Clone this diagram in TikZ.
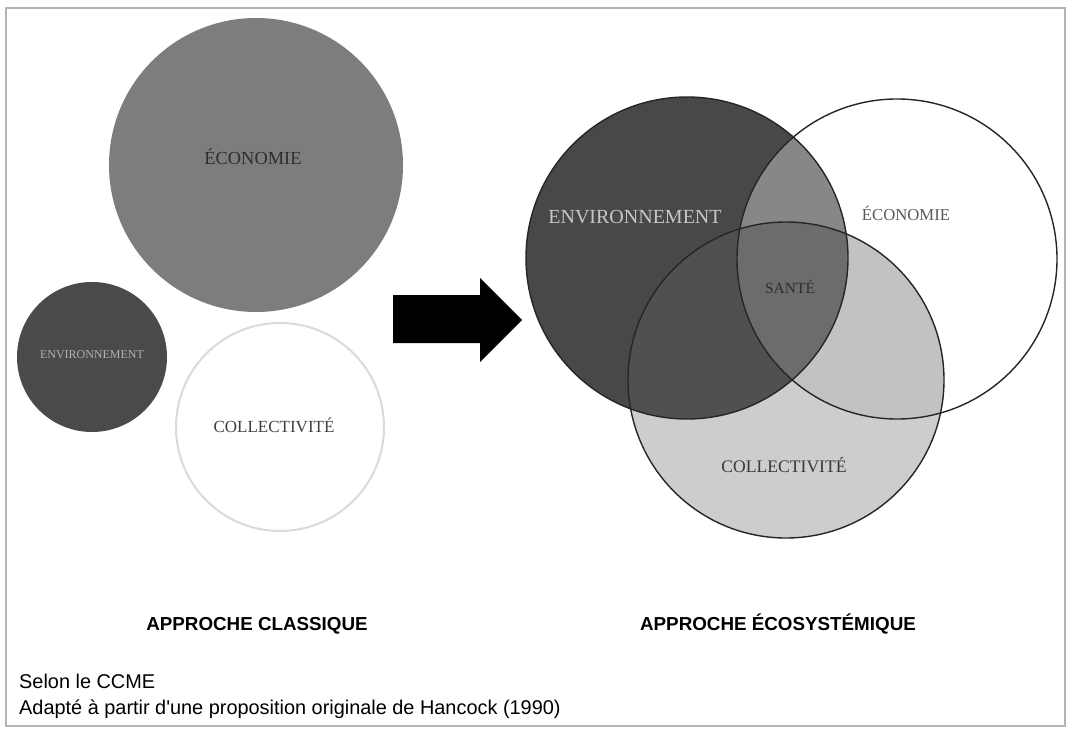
\documentclass[tikz,border=0pt]{standalone}
\usepackage{fontspec}
\setmainfont{Liberation Serif}
\setsansfont{Liberation Sans}
\definecolor{framegray}{HTML}{B4B4B4}
\definecolor{ecoLfill}{HTML}{7D7D7D}
\definecolor{envLfill}{HTML}{4A4A4A}
\definecolor{colLline}{HTML}{DADADA}
\definecolor{envfill}{HTML}{484848}
\definecolor{collfill}{HTML}{CDCDCD}
\definecolor{enveco}{HTML}{878787}
\definecolor{envcol}{HTML}{505050}
\definecolor{coleco}{HTML}{C2C2C2}
\definecolor{santefill}{HTML}{6C6C6C}
\newcommand{\fsz}[1]{\fontsize{#1pt}{#1pt}\selectfont}
% straight typewriter-style apostrophe, bypassing the TeX ligature mapping
\newcommand{\straightquote}{\XeTeXglyph\XeTeXcharglyph"27\relax}
\begin{document}
\begin{tikzpicture}[x=1pt,y=-1pt,
  lbl/.style={inner sep=0pt, font=\rmfamily},
  heading/.style={inner sep=0pt, anchor=base, font=\sffamily\bfseries\fsz{18.8}},
  note/.style={inner sep=0pt, anchor=base west, font=\sffamily\fsz{19.9}},
  venn/.style={line width=1.4pt, draw=black!85}]
\useasboundingbox (0,0) rectangle (1072,733);
\fill[white] (0,0) rectangle (1072,733);
% outer frame
\draw[framegray, line width=1.2pt] (6,8) rectangle (1065,726);

% ---- classical approach: three separate circles ----
\coordinate (ecoL) at (256,165);
\coordinate (envL) at (92,357);
\coordinate (colL) at (280,427);
\fill[ecoLfill] (ecoL) circle[radius=147pt];
\fill[envLfill] (envL) circle[radius=75pt];
\draw[colLline, line width=2pt, fill=white] (colL) circle[radius=104pt];
\node[lbl, text=black!82, font=\rmfamily\fsz{18.4}] (tEcoL) at (253,157) {ÉCONOMIE};
\node[lbl, text=black!30, font=\rmfamily\fsz{12}] (tEnvL) at (92,355) {ENVIRONNEMENT};
\node[lbl, text=black!75, font=\rmfamily\fsz{17}] (tColL) at (274,425) {COLLECTIVITÉ};

% ---- block arrow ----
\fill[black] (393,295) -- (480,295) -- (480,278) -- (522,320)
  -- (480,362) -- (480,343) -- (393,343) -- cycle;

% ---- ecosystemic approach: overlapping circles ----
\coordinate (envR) at (687,258);
\coordinate (ecoR) at (897,259);
\coordinate (colR) at (786,380);
\fill[collfill] (colR) circle[radius=158pt];
\begin{scope}
  \clip (colR) circle[radius=158pt];
  \fill[coleco] (ecoR) circle[radius=160pt];
\end{scope}
\fill[envfill] (envR) circle[radius=161pt];
\begin{scope}
  \clip (envR) circle[radius=161pt];
  \fill[enveco] (ecoR) circle[radius=160pt];
  \fill[envcol] (colR) circle[radius=158pt];
  \clip (colR) circle[radius=158pt];
  \fill[santefill] (ecoR) circle[radius=160pt];
\end{scope}
\draw[venn] (envR) circle[radius=161pt];
\draw[venn] (ecoR) circle[radius=160pt];
\draw[venn] (colR) circle[radius=158pt];
\node[lbl, text=black!22, font=\rmfamily\fsz{20}] (tEnvR) at (635,217) {ENVIRONNEMENT};
\node[lbl, text=black!65, font=\rmfamily\fsz{16.7}] (tEcoR) at (906,213) {ÉCONOMIE};
\node[lbl, text=black!82, font=\rmfamily\fsz{15.5}] (tSante) at (790,287) {SANTÉ};
\node[lbl, text=black!78, font=\rmfamily\fsz{17.6}] (tColR) at (784,465) {COLLECTIVITÉ};

% ---- captions ----
\node[heading] (hClass) at (257,630) {APPROCHE CLASSIQUE};
\node[heading] (hEco) at (778,630) {APPROCHE ÉCOSYSTÉMIQUE};
\node[note] (src1) at (19,688) {Selon le CCME};
\node[note] (src2) at (19,714) {Adapté à partir d\straightquote une proposition originale de Hancock (1990)};
\end{tikzpicture}
\end{document}
